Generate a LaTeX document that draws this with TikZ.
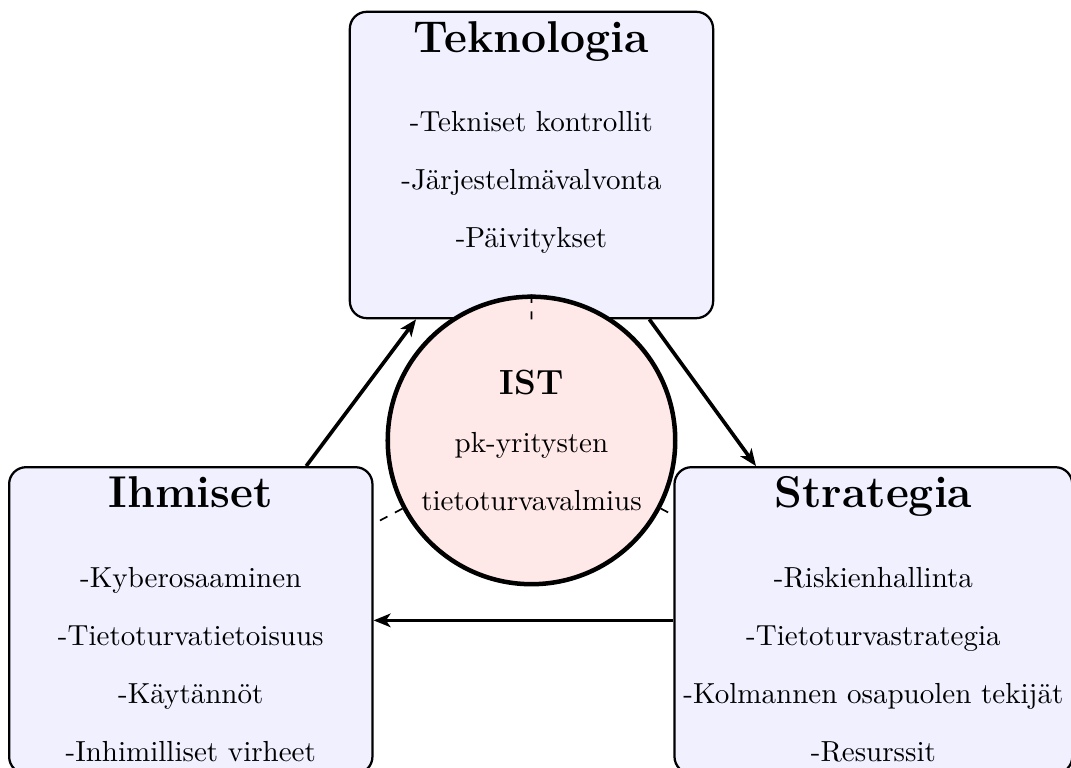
\documentclass[tikz,border=0pt]{standalone}
\usepackage{fontspec}
\usetikzlibrary{arrows,arrows.meta,positioning}
\tikzset{
	%Define standard arrow tip
	>={Stealth[length=6pt,width=4.8pt,inset=1.6pt]},
	%Define style for the three boxes
	laatikko/.style={
		rectangle,
		rounded corners=6pt,
		draw=black, thick,
		fill=blue!6,
		minimum width=4.53cm,
		minimum height=3.82cm},
	% Style for the circle in the middle
	ympyra/.style={
		circle,
		draw=black, ultra thick,
		fill=red!9,
		minimum size=3.55cm,
		font=\fontsize{10.3pt}{12.4pt}\selectfont,
		align=center},
	otsikko/.style={anchor=base, font=\fontsize{15.8pt}{19pt}\selectfont\bfseries},
	kohta/.style={anchor=base, font=\fontsize{10.3pt}{12.4pt}\selectfont},
	% Define arrow style
	nuoli/.style={
		->,
		line width=1.3pt},
	katko/.style={dashed, semithick}
}

\begin{document}
\begin{tikzpicture}
	\useasboundingbox (0,0) rectangle (13.354,-9.564);

	\node[laatikko] (tek) at (6.627,-2.057) {};
	\node[laatikko, below left = 1.83cm and -0.31cm of tek] (ihm) {};
	\node[laatikko, minimum width=4.96cm, below right = 1.83cm and -0.51cm of tek] (str) {};

	\node[ympyra, below = -0.31cm of tek] (ist) {{\fontsize{12.4pt}{14pt}\selectfont\bfseries IST}\\[8.2pt]pk-yritysten\\[8.2pt]tietoturvavalmius};

	\node[otsikko] (tek-otsikko) at ([yshift=-0.52cm]tek.north) {Teknologia};
	\node[otsikko] (ihm-otsikko) at ([yshift=-0.52cm]ihm.north) {Ihmiset};
	\node[otsikko] (str-otsikko) at ([yshift=-0.52cm]str.north) {Strategia};

	\foreach \teksti [count=\i] in {-Tekniset kontrollit, -Järjestelmävalvonta, -Päivitykset}
		\node[kohta] (tek-\i) at ([yshift=-0.267cm-\i*0.723cm]tek-otsikko.base) {\teksti};
	\foreach \teksti [count=\i] in {-Kyberosaaminen, -Tietoturvatietoisuus, -Käytännöt, -Inhimilliset virheet}
		\node[kohta] (ihm-\i) at ([yshift=-0.267cm-\i*0.723cm]ihm-otsikko.base) {\teksti};
	\foreach \teksti [count=\i] in {-Riskienhallinta, -Tietoturvastrategia, -Kolmannen osapuolen tekijät, -Resurssit}
		\node[kohta] (str-\i) at ([yshift=-0.267cm-\i*0.723cm]str-otsikko.base) {\teksti};

	\draw[katko] (ist) -- (tek) (ist) -- (ihm) (ist) -- (str);

	\draw[nuoli] ([xshift=-0.84cm]ihm.north east) -- ([xshift=0.84cm]tek.south west);
	\draw[nuoli] ([xshift=-0.81cm]tek.south east) -- ([xshift=1.03cm]str.north west);
	\draw[nuoli] (str) -- (ihm);
\end{tikzpicture}
\end{document}
